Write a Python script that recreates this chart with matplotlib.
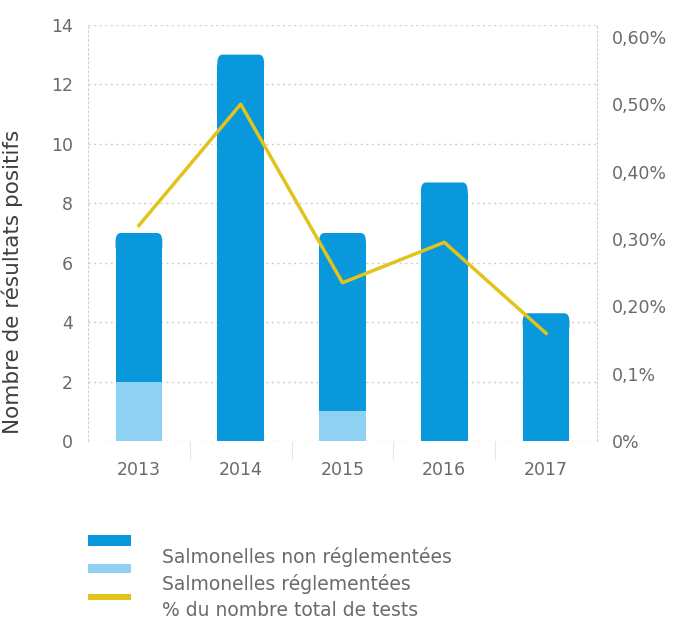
import numpy as np
import matplotlib
matplotlib.use("Agg")
import matplotlib.pyplot as plt
from matplotlib.patches import Rectangle, FancyBboxPatch

matplotlib.rcParams["font.family"] = "DejaVu Sans"

years = ["2013", "2014", "2015", "2016", "2017"]
non_regl = [5, 13, 6, 8.7, 4.3]      # Salmonelles non réglementées
regl = [2, 0, 1, 0, 0]               # Salmonelles réglementées
pct_tests = [0.32, 0.50, 0.235, 0.295, 0.16]  # % du nombre total de tests

left_ticks = [0, 2, 4, 6, 8, 10, 12, 14]
right_ticks = [0, 0.1, 0.2, 0.3, 0.4, 0.5, 0.6]
right_labels = ["0%", "0,1%", "0,20%", "0,30%", "0,40%", "0,50%", "0,60%"]

legend_labels = ["Salmonelles non réglementées", "Salmonelles réglementées",
                 "% du nombre total de tests"]

dark_blue = "#0a98dc"
light_blue = "#8ed1f3"
yellow = "#e2c31c"
text_grey = "#6a6a6a"
grid_grey = "#cfcfcf"

fig = plt.figure(figsize=(6.85, 6.23), dpi=100)
ax = fig.add_axes([0.1285, 0.292, 0.743, 0.668])

x = np.arange(len(years))
width = 0.46
r = 0.35  # height (data units) used for the rounded top


def round_tops(bars, color):
    # shorten each bar a bit and put a rounded cap on it
    for b in bars:
        bx, by = b.get_x(), b.get_y()
        bw, bh = b.get_width(), b.get_height()
        b.set_height(bh - r)
        cap = FancyBboxPatch((bx, by + bh - 2 * r), bw, 2 * r,
                             boxstyle="round,pad=0,rounding_size=0.05",
                             mutation_aspect=6.0, fc=color, ec="none",
                             zorder=3)
        ax.add_patch(cap)


ax.bar(x, regl, width, color=light_blue, zorder=3)
top_bars = ax.bar(x, non_regl, width, bottom=regl, color=dark_blue, zorder=3)
round_tops(top_bars, dark_blue)

ax.set_xlim(-0.5, 4.5)
ax.set_ylim(0, 14)
ax.set_yticks(left_ticks)
ax.set_xticks(x)
ax.set_xticklabels(years)
ax.set_xticks(np.arange(0.5, 4, 1), minor=True)
ax.tick_params(axis="both", which="major", length=0, labelsize=12.5,
               colors=text_grey)
ax.tick_params(axis="y", pad=11)
ax.tick_params(axis="x", pad=14)
ax.tick_params(axis="x", which="minor", length=14, width=0.8,
               color="#e6e6e6", direction="out")

ax.grid(axis="y", linestyle=(0, (1.5, 2.5)), color=grid_grey, linewidth=1)
ax.set_axisbelow(True)
for s in ["top", "bottom"]:
    ax.spines[s].set_visible(False)
for s in ["left", "right"]:
    ax.spines[s].set_linestyle((0, (1.5, 2.5)))
    ax.spines[s].set_color(grid_grey)

ax.set_ylabel("Nombre de résultats positifs", fontsize=15.5, color="#3f3f3f")
ax.yaxis.set_label_coords(-0.128, 0.383)

# percentage axis on the right
ax2 = ax.twinx()
ax2.plot(x, pct_tests, color=yellow, linewidth=2.5, zorder=4)
ax2.set_ylim(0.0088, 0.6176)
ax2.set_yticks(right_ticks)
ax2.set_yticklabels(right_labels)
ax2.tick_params(axis="y", length=0, pad=11, labelsize=12.5, colors=text_grey)
for s in ax2.spines.values():
    s.set_visible(False)

# legend, laid out by hand
colors = [dark_blue, light_blue, yellow]
handle_h = [11, 9, 6]
for i, (lab, c) in enumerate(zip(legend_labels, colors)):
    yc = 1 - (540 + i * 28.5) / 623
    fig.add_artist(Rectangle((88 / 685, yc - handle_h[i] / 2 / 623), 43 / 685,
                             handle_h[i] / 623, transform=fig.transFigure,
                             fc=c, ec="none"))
    fig.text(162 / 685, 1 - (557 + i * 27) / 623, lab, fontsize=13.5,
             color=text_grey, va="center", ha="left")

fig.savefig("out.png", dpi=100)
